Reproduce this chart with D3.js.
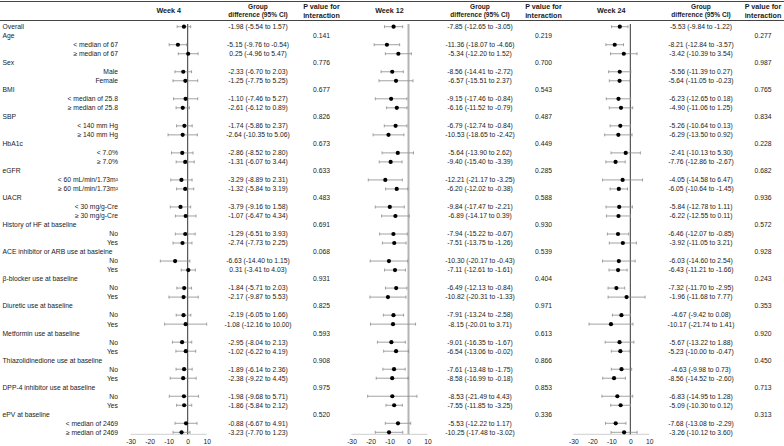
<!DOCTYPE html>
<html>
<head>
<meta charset="utf-8">
<script src="https://cdn.jsdelivr.net/npm/d3@7"></script>
<style>
html,body{margin:0;padding:0;background:#fff;}
svg{display:block;font-family:"Liberation Sans",Arial,sans-serif;}
</style>
</head>
<body>
<svg id="chart" width="784" height="446"></svg>
<script>
// ---------- DATA ----------
const groups = ["Age","Sex","BMI","SBP","HbA1c","eGFR","UACR","History of HF at baseline",
  "ACE inhibitor or ARB use at basleine","β-blocker use at baseline","Diuretic use at baseline",
  "Metformin use at baseline","Thiazolidinedione use at baseline","DPP-4 inhibitor use at baseline","ePV at baseline"];
const subgroups = [
  ["< median of 67","≥ median of 67"],["Male","Female"],["< median of 25.8","≥ median of 25.8"],
  ["< 140 mm Hg","≥ 140 mm Hg"],["< 7.0%","≥ 7.0%"],["< 60 mL/min/1.73m²","≥ 60 mL/min/1.73m²"],
  ["< 30 mg/g-Cre","≥ 30 mg/g-Cre"],["No","Yes"],["No","Yes"],["No","Yes"],["No","Yes"],
  ["No","Yes"],["No","Yes"],["No","Yes"],["< median of 2469","≥ median of 2469"]];
const panelTitles = ["Week 4","Week 12","Week 24"];
const xTicks = [-30,-20,-10,0,10];

// order: Overall, then each group's two subgroups
const week4Est = [-1.98,-5.15,0.25,-2.33,-1.25,-1.10,-2.61,-1.74,-2.64,-2.86,-1.31,-3.29,-1.32,-3.79,-1.07,-1.29,-2.74,-6.63,0.31,-1.84,-2.17,-2.19,-1.08,-2.95,-1.02,-1.89,-2.38,-1.98,-1.86,-0.88,-3.23];
const week4Lo  = [-5.54,-9.76,-4.96,-6.70,-7.75,-7.46,-6.12,-5.86,-10.35,-8.52,-6.07,-8.89,-5.84,-9.16,-6.47,-6.51,-7.73,-14.40,-3.41,-5.71,-9.87,-6.05,-12.16,-8.04,-6.22,-6.14,-9.22,-9.68,-5.84,-6.67,-7.70];
const week4Hi  = [1.57,-0.54,5.47,2.03,5.25,5.27,0.89,2.37,5.06,2.80,3.44,2.31,3.19,1.58,4.34,3.93,2.25,1.15,4.03,2.03,5.53,1.66,10.00,2.13,4.19,2.36,4.45,5.71,2.12,4.91,1.23];
const week4P   = ["0.141","0.776","0.677","0.826","0.673","0.633","0.483","0.691","0.068","0.931","0.825","0.593","0.908","0.975","0.520"];

const week12Est = [-7.85,-11.36,-5.34,-8.56,-6.57,-9.15,-6.16,-6.79,-10.53,-5.64,-9.40,-12.21,-6.20,-9.84,-6.89,-7.94,-7.51,-10.30,-7.11,-6.49,-10.82,-7.91,-8.15,-9.01,-6.54,-7.61,-8.58,-8.53,-7.55,-5.53,-10.25];
const week12Lo  = [-12.65,-18.07,-12.20,-14.41,-15.51,-17.46,-11.52,-12.74,-18.65,-13.90,-15.40,-21.17,-12.02,-17.47,-14.17,-15.22,-13.75,-20.17,-12.61,-12.13,-20.31,-13.24,-20.01,-16.35,-13.06,-13.48,-16.99,-21.49,-11.85,-12.22,-17.48];
const week12Hi  = [-3.05,-4.66,1.52,-2.72,2.37,-0.84,-0.79,-0.84,-2.42,2.62,-3.39,-3.25,-0.38,-2.21,0.39,-0.67,-1.26,-0.43,-1.61,-0.84,-1.33,-2.58,3.71,-1.67,-0.02,-1.75,-0.18,4.43,-3.25,1.17,-3.02];
const week12P   = ["0.219","0.700","0.543","0.487","0.449","0.285","0.588","0.930","0.539","0.404","0.971","0.613","0.866","0.853","0.336"];

const week24Est = [-5.53,-8.21,-3.42,-5.56,-5.64,-6.23,-4.90,-5.26,-6.29,-2.41,-7.76,-4.05,-6.05,-5.84,-6.22,-6.46,-3.92,-6.03,-6.43,-7.32,-1.96,-4.67,-10.17,-5.67,-5.23,-4.63,-8.56,-6.83,-5.09,-7.68,-3.26];
const week24Lo  = [-9.84,-12.84,-10.39,-11.39,-11.05,-12.65,-11.06,-10.64,-13.50,-10.13,-12.86,-14.58,-10.64,-12.78,-12.55,-12.07,-11.05,-14.60,-11.21,-11.70,-11.68,-9.42,-21.74,-13.22,-10.00,-9.98,-14.52,-14.95,-10.30,-13.08,-10.12];
const week24Hi  = [-1.22,-3.57,3.54,0.27,-0.23,0.18,1.25,0.13,0.92,5.30,-2.67,6.47,-1.45,1.11,0.11,-0.85,3.21,2.54,-1.66,-2.95,7.77,0.08,1.41,1.88,-0.47,0.73,-2.60,1.28,0.12,-2.29,3.60];
const week24P   = ["0.277","0.987","0.765","0.834","0.228","0.682","0.936","0.572","0.928","0.243","0.353","0.920","0.450","0.713","0.313"];

// ---------- LAYOUT ----------
const svg = d3.select("#chart");
const FS = 6.75, HFS = 7.2;
const ink = "#1a1a1a";
const y = d3.scaleLinear().domain([0,45]).range([26.7,432.3]);
const rowOfData = i => i === 0 ? 0 : (2 + 3*Math.floor((i-1)/2) + (i-1)%2);

const panels = [
  {title:panelTitles[0], est:week4Est, lo:week4Lo, hi:week4Hi, p:week4P, x0:130.7, ci:258, pc:321.5, ref:"#333", refW:1},
  {title:panelTitles[1], est:week12Est, lo:week12Lo, hi:week12Hi, p:week12P, x0:351.5, ci:480, pc:543.5, ref:"#b4b4b4", refW:2},
  {title:panelTitles[2], est:week24Est, lo:week24Lo, hi:week24Hi, p:week24P, x0:573.3, ci:701, pc:763, ref:"#333", refW:1}
];

// top rules
svg.append("line").attr("x1",0).attr("x2",784).attr("y1",1.5).attr("y2",1.5).attr("stroke","#444").attr("stroke-width",1);
svg.append("line").attr("x1",0).attr("x2",784).attr("y1",20.5).attr("y2",20.5).attr("stroke","#444").attr("stroke-width",1);

// row labels
const labels = svg.append("g").attr("font-size",FS).attr("fill",ink);
labels.append("text").attr("x",2.5).attr("y",y(0)).attr("dy","0.35em").text("Overall");
groups.forEach((g,gi)=>{
  labels.append("text").attr("x",2.5).attr("y",y(1+3*gi)).attr("dy","0.35em").text(g);
  subgroups[gi].forEach((s,si)=>{
    labels.append("text").attr("x",118).attr("y",y(2+3*gi+si)).attr("dy","0.35em").attr("text-anchor","end").text(s);
  });
});

const fmt = v => v.toFixed(2);

panels.forEach(p=>{
  const x = d3.scaleLinear().domain([-30,10]).range([p.x0, p.x0+76]);
  const g = svg.append("g");
  // headers
  g.append("text").attr("x",(x(-30)+x(10))/2).attr("y",10.7).attr("dy","0.35em").attr("text-anchor","middle")
    .attr("font-size",HFS).attr("font-weight","bold").attr("fill",ink).text(p.title);
  g.append("text").attr("x",p.ci).attr("y",6.7).attr("dy","0.35em").attr("text-anchor","middle")
    .attr("font-size",6.6).attr("font-weight","bold").attr("fill",ink).text("Group");
  g.append("text").attr("x",p.ci).attr("y",15).attr("dy","0.35em").attr("text-anchor","middle")
    .attr("font-size",6.6).attr("font-weight","bold").attr("fill",ink).text("difference (95% CI)");
  g.append("text").attr("x",p.pc).attr("y",6.7).attr("dy","0.35em").attr("text-anchor","middle")
    .attr("font-size",HFS).attr("font-weight","bold").attr("fill",ink).text("P value for");
  g.append("text").attr("x",p.pc).attr("y",15).attr("dy","0.35em").attr("text-anchor","middle")
    .attr("font-size",HFS).attr("font-weight","bold").attr("fill",ink).text("interaction");

  // axis
  const axY = 434.3;
  g.append("line").attr("x1",x(-30)).attr("x2",x(10)).attr("y1",axY).attr("y2",axY).attr("stroke","#cfcfcf").attr("stroke-width",1);
  const ax = d3.axisBottom(x).tickValues(xTicks).tickSize(0).tickPadding(5).tickFormat(d => String(d));
  const axG = g.append("g").attr("transform",`translate(0,${axY})`).call(ax);
  axG.select(".domain").remove();
  axG.selectAll("text").attr("font-size",FS).attr("fill",ink).attr("font-family","Liberation Sans, Arial, sans-serif");

  // reference line
  g.append("line").attr("x1",x(0)).attr("x2",x(0)).attr("y1",24).attr("y2",axY).attr("stroke",p.ref).attr("stroke-width",p.refW);

  // CIs
  const idx = d3.range(p.est.length);
  const ciG = g.append("g").attr("stroke","#8a8a8a").attr("stroke-width",0.8);
  idx.forEach(i=>{
    const yy = y(rowOfData(i));
    ciG.append("line").attr("x1",x(p.lo[i])).attr("x2",x(p.hi[i])).attr("y1",yy).attr("y2",yy);
    ciG.append("line").attr("x1",x(p.lo[i])).attr("x2",x(p.lo[i])).attr("y1",yy-1.5).attr("y2",yy+1.5);
    ciG.append("line").attr("x1",x(p.hi[i])).attr("x2",x(p.hi[i])).attr("y1",yy-1.5).attr("y2",yy+1.5);
  });
  g.selectAll("circle.pt").data(idx).enter().append("circle").attr("class","pt")
    .attr("cx",i=>x(p.est[i])).attr("cy",i=>y(rowOfData(i))).attr("r",2.1).attr("fill","#000");

  // CI text
  g.selectAll("text.ci").data(idx).enter().append("text").attr("class","ci")
    .attr("x",p.ci).attr("y",i=>y(rowOfData(i))).attr("dy","0.35em").attr("text-anchor","middle")
    .attr("font-size",FS).attr("fill",ink)
    .text(i=>`${fmt(p.est[i])} (${fmt(p.lo[i])} to ${fmt(p.hi[i])})`);

  // P values on the group header rows
  g.selectAll("text.pv").data(p.p).enter().append("text").attr("class","pv")
    .attr("x",p.pc).attr("y",(d,gi)=>y(1+3*gi)).attr("dy","0.35em").attr("text-anchor","middle")
    .attr("font-size",FS).attr("fill",ink).text(d=>d);
});
</script>
</body>
</html>
